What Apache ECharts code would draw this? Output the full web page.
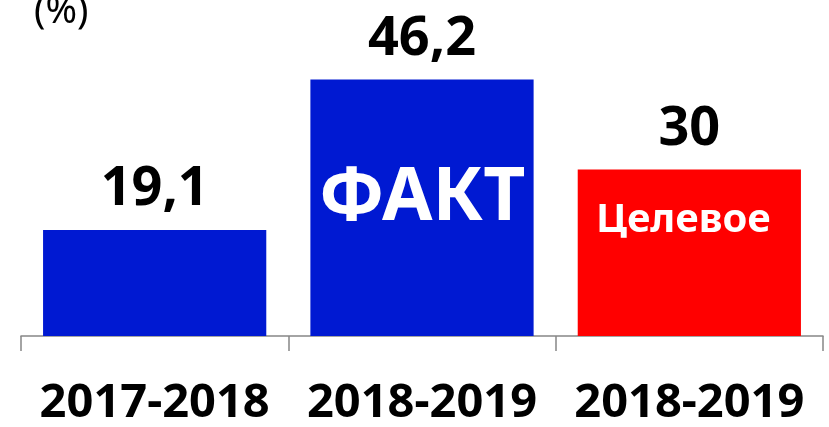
<!DOCTYPE html>
<html><head><meta charset="utf-8">
<script src="https://cdn.jsdelivr.net/npm/echarts@6/dist/echarts.min.js"></script>
<style>html,body{margin:0;padding:0;background:#fff}#c{width:829px;height:427px}</style>
</head><body><div id="c"></div>
<script>
const categories = ['2017-2018', '2018-2019', '2018-2019'];
const values = [19.1, 46.2, 30];
const valueLabels = ['19,1', '46,2', '30'];
const innerLabels = ['', 'ФАКТ', 'Целевое'];
const colors = ['#0019D2', '#0019D2', '#FF0000'];
const unitLabel = '(%)';
const FONT = 'Noto Sans';

const chart = echarts.init(document.getElementById('c'));
chart.setOption({
  animation: false,
  backgroundColor: '#ffffff',
  graphic: [{ type: 'text', left: 34, top: -7,
    style: { text: unitLabel, fontFamily: FONT, fontSize: 38, fontWeight: 'normal', fill: '#000' } }],
  grid: { left: 21, right: 6, top: 3, bottom: 89 },
  xAxis: {
    type: 'category', data: categories,
    axisLine: { show: true, lineStyle: { color: '#868686', width: 1.5 } },
    axisTick: { show: true, length: 15, alignWithLabel: false, lineStyle: { color: '#868686', width: 1.5 } },
    axisLabel: { margin: 44, fontFamily: FONT, fontSize: 47, fontWeight: 'bold', color: '#000', interval: 0 }
  },
  yAxis: { type: 'value', min: 0, max: 60, show: false, splitLine: { show: false } },
  series: [
    {
      type: 'bar', barWidth: '83.5%',
      data: values.map((v, i) => ({ value: v, itemStyle: { color: colors[i] } })),
      label: { show: true, position: 'top', distance: 13,
        formatter: p => valueLabels[p.dataIndex],
        fontFamily: FONT, fontSize: 54, fontWeight: 'bold', color: '#000' }
    },
    {
      type: 'bar', barWidth: '83.5%', barGap: '-100%',
      data: values.map((v, i) => ({ value: v,
        label: i === 1 ? { offset: [0, -9], fontSize: 73 } : (i === 2 ? { offset: [-6, -32], fontSize: 40 } : {}) })),
      itemStyle: { color: 'rgba(0,0,0,0)' },
      label: { show: true, position: 'inside',
        formatter: p => innerLabels[p.dataIndex],
        fontFamily: FONT, fontWeight: 'bold', color: '#fff' }
    }
  ]
});
</script></body></html>
